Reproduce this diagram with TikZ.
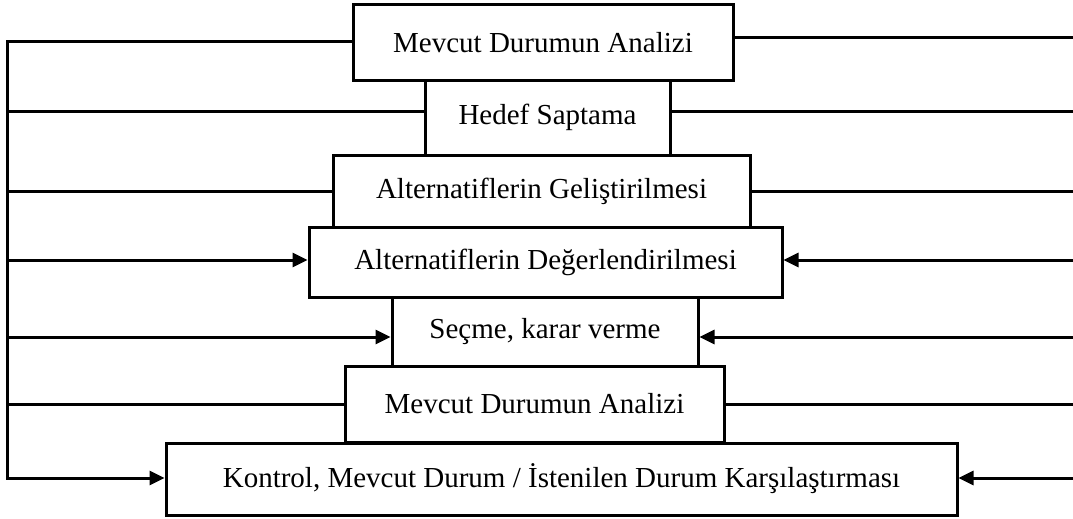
\documentclass[tikz,border=0pt]{standalone}
\usepackage{fontspec}
\setmainfont{Liberation Serif}
\usetikzlibrary{arrows.meta}

\begin{document}
\begin{tikzpicture}[x=1pt,y=-1pt,>={Triangle[length=15pt,width=14pt]},line width=3pt,
    box node/.style={rectangle,draw,inner sep=0pt,font=\fontsize{29}{34}\selectfont},
    end point/.style={coordinate}]
  \useasboundingbox (0,0) rectangle (1073,519);
  \begin{scope}
    % steps
    \node[box node,minimum width=380pt,minimum height=75pt] (a) at (543,42.5) {Mevcut Durumun Analizi};
    \node[box node,minimum width=245pt,minimum height=75pt] (b) at (547.5,117.5) {Hedef Saptama};
    \node[box node,minimum width=417pt,minimum height=72pt] (c) at (541.5,191) {Alternatiflerin Geliştirilmesi};
    \node[box node,minimum width=473pt,minimum height=70pt] (d) at (545.5,262) {Alternatiflerin Değerlendirilmesi};
    \node[box node,minimum width=306pt,minimum height=69pt] (e) at (545,331.5) {Seçme, karar verme};
    \node[box node,minimum width=379pt,minimum height=76pt] (f) at (534.5,404) {Mevcut Durumun Analizi};
    \node[box node,minimum width=791pt,minimum height=72pt] (g) at (561.5,479) {Kontrol, Mevcut Durum / İstenilen Durum Karşılaştırması};
    % left bus
    \node[end point] (l1) at (7,42) {};
    \node[end point] (l2) at (7,111) {};
    \node[end point] (l3) at (7,191) {};
    \node[end point] (l4) at (7,260) {};
    \node[end point] (l5) at (7,337) {};
    \node[end point] (l6) at (7,404) {};
    \node[end point] (l7) at (7,478) {};
    % right ends
    \node[end point] (r1) at (1073,38) {};
    \node[end point] (r2) at (1073,111) {};
    \node[end point] (r3) at (1073,191) {};
    \node[end point] (r4) at (1073,260) {};
    \node[end point] (r5) at (1073,337) {};
    \node[end point] (r6) at (1073,404) {};
    \node[end point] (r7) at (1073,478) {};
    \draw[->] (l1 -| a.west) -- (l1) -- (l7) -- (l7 -| g.west);
    \path[-] (l2) edge (l2 -| b.west);
    \path[-] (l3) edge (l3 -| c.west);
    \path[->] (l4) edge (l4 -| d.west);
    \path[->] (l5) edge (l5 -| e.west);
    \path[-] (l6) edge (l6 -| f.west);
    \path[-] (r1 -| a.east) edge (r1);
    \path[-] (r2 -| b.east) edge (r2);
    \path[-] (r3 -| c.east) edge (r3);
    \path[->] (r4) edge (r4 -| d.east);
    \path[->] (r5) edge (r5 -| e.east);
    \path[-] (r6 -| f.east) edge (r6);
    \path[->] (r7) edge (r7 -| g.east);
  \end{scope}
\end{tikzpicture}
\end{document}
